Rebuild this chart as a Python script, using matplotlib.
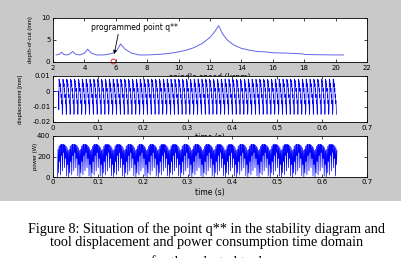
import matplotlib.pyplot as plt
import numpy as np
from matplotlib.patches import Rectangle

# ── DATA ──────────────────────────────────────────────
# stability lobes (spindle speed in krpm, limit depth of cut in mm)
speed_krpm = [2.2, 2.4, 2.55, 2.7, 2.9, 3.1, 3.25, 3.45, 3.7, 4.0, 4.2, 4.45,
              4.8, 5.2, 5.6, 5.9, 6.1, 6.3, 6.6, 7.0, 7.5, 8.0, 8.5, 9.0,
              9.5, 10.0, 10.5, 11.0, 11.5, 12.0, 12.3, 12.55, 12.8, 13.1,
              13.5, 14.0, 14.5, 15.0, 15.5, 16.0, 17.0, 17.9, 18.0, 19.0,
              20.0, 20.5]
depth_mm = [1.6, 1.75, 2.2, 1.7, 1.6, 1.9, 2.4, 1.75, 1.6, 2.0, 2.9, 2.0,
            1.6, 1.6, 1.8, 2.1, 2.8, 4.1, 2.9, 2.0, 1.6, 1.6, 1.7, 1.8,
            2.0, 2.3, 2.7, 3.3, 4.2, 5.6, 6.9, 8.25, 6.4, 5.0,
            3.9, 3.1, 2.7, 2.4, 2.3, 2.1, 2.0, 1.85, 1.7, 1.65,
            1.6, 1.6]
q_speed, q_depth = 5.85, 0.3

# tool displacement (mm): idle lead-in, then one shape repeated per tooth pass
disp_lead_t = [0.0, 0.012]
disp_lead = [0.0, 0.0]
disp_t_start, disp_t_end = 0.013, 0.632
disp_n_teeth = 72
disp_tooth = [-0.012, 0.008, 0.006, 0.007, 0.003, 0.005, 0.0, 0.002,
              -0.004, -0.002, -0.008, -0.006, -0.011, -0.015]

# cutting power (W): one arch shape repeated per revolution
power_t_start, power_t_end = 0.01, 0.633
power_n_arches = 25
power_arch = [0, 270, 40, 300, 150, 312, 20, 318, 210, 320, 60, 318,
              240, 315, 90, 310, 180, 300, 10, 285, 120, 260]

# ── FIGURE ────────────────────────────────────────────
fig = plt.figure(figsize=(4.04, 2.58), dpi=100)
fig.patch.set_facecolor('#c9c9c9')
fig.patches.append(Rectangle((0, 0), 1, 1 - 201 / 258, transform=fig.transFigure,
                             facecolor='white', edgecolor='none', zorder=-1))
fig.patches.append(Rectangle((401 / 404, 0), 1, 1, transform=fig.transFigure,
                             facecolor='white', edgecolor='none', zorder=-1))

lbl_font = dict(fontsize=4.2, family='Liberation Sans')


def style(ax):
    ax.set_facecolor('white')
    ax.tick_params(direction='in', length=2, width=0.5, top=True, right=True,
                   labelsize=5, pad=1.8)
    for s in ax.spines.values():
        s.set_linewidth(0.6)


L, W = 53 / 404, 314 / 404
time_ticks = ['0', '0.1', '0.2', '0.3', '0.4', '0.5', '0.6', '0.7']

# ── panel 1: stability diagram ──
ax1 = fig.add_axes([L, 1 - 62 / 258, W, 44 / 258])
style(ax1)
ax1.plot(speed_krpm, depth_mm, color='#6464e6', linewidth=0.7)
ax1.plot(q_speed, q_depth, 'o', mfc='none', mec='#e03030', ms=3.5, mew=0.7,
         clip_on=False)
ax1.text(4.4, 7.2, 'programmed point q**', fontsize=5.5, family='DejaVu Sans')
ax1.annotate('', xy=(5.9, 1.8), xytext=(6.15, 6.3),
             arrowprops=dict(arrowstyle='-|>', color='black', lw=0.6,
                             mutation_scale=5, shrinkA=0, shrinkB=0))
ax1.set_xlim(2, 22)
ax1.set_ylim(0, 10)
ax1.set_xticks(np.arange(2, 23, 2))
ax1.set_yticks([0, 5, 10])
ax1.set_xlabel('spindle speed (krpm)', fontsize=5.5, labelpad=1.8)
ax1.set_ylabel('depth-of-cut (mm)', **lbl_font)
ax1.yaxis.set_label_coords(-0.064, 0.5)

# ── panel 2: tool displacement ──
ax2 = fig.add_axes([L, 1 - 122 / 258, W, 46 / 258])
style(ax2)
disp_vals = np.concatenate([disp_lead, np.tile(disp_tooth, disp_n_teeth)])
disp_t = np.concatenate([disp_lead_t,
                         np.linspace(disp_t_start, disp_t_end,
                                     disp_n_teeth * len(disp_tooth))])
ax2.plot(disp_t, disp_vals, color='#0000ff', linewidth=0.5)
ax2.set_xlim(0, 0.7)
ax2.set_ylim(-0.02, 0.01)
ax2.set_xticks(np.arange(0, 0.71, 0.1))
ax2.set_xticklabels(time_ticks)
ax2.set_yticks([-0.02, -0.01, 0, 0.01])
ax2.set_yticklabels(['-0.02', '-0.01', '0', '0.01'])
ax2.set_xlabel('time (s)', fontsize=5.5, labelpad=1.8)
ax2.set_ylabel('displacement [mm]', **lbl_font)
ax2.yaxis.set_label_coords(-0.096, 0.5)

# ── panel 3: power consumption ──
ax3 = fig.add_axes([L, 1 - 177 / 258, W, 41 / 258])
style(ax3)
power_vals = np.tile(power_arch, power_n_arches)
power_t = np.linspace(power_t_start, power_t_end, len(power_vals))
ax3.plot(power_t, power_vals, color='#0000ff', linewidth=0.5)
ax3.set_xlim(0, 0.7)
ax3.set_ylim(0, 400)
ax3.set_xticks(np.arange(0, 0.71, 0.1))
ax3.set_xticklabels(time_ticks)
ax3.set_yticks([0, 200, 400])
ax3.set_xlabel('time (s)', fontsize=5.5, labelpad=1.5)
ax3.set_ylabel('power (W)', **lbl_font)
ax3.yaxis.set_label_coords(-0.048, 0.5)

# ── caption ──
cap = dict(ha='center', va='baseline', fontsize=10.2, family='Liberation Serif')
fig.text(207 / 404, 1 - 233 / 258,
         'Figure 8: Situation of the point q** in the stability diagram and', **cap)
fig.text(207 / 404, 1 - 246 / 258,
         'tool displacement and power consumption time domain', **cap)
fig.text(207 / 404, 1 - 266 / 258, 'for the selected tool', **cap)

fig.savefig('out.png', dpi=100)
